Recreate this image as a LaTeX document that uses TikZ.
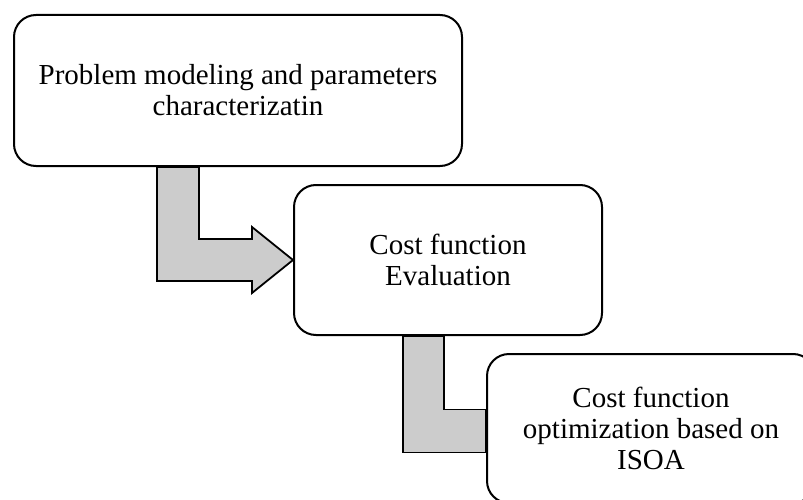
\documentclass[tikz,border=0pt]{standalone}
\usepackage{fontspec}
\setmainfont{Liberation Serif}
\usetikzlibrary{calc,backgrounds}
\definecolor{arrowgray}{RGB}{204,204,204}
\begin{document}
\begin{tikzpicture}[x=1pt,y=-1pt,
  stage/.style={draw=black, line width=2pt, fill=white, rounded corners=22pt,
    inner sep=0pt, align=center, font=\fontsize{29}{31}\selectfont},
  flow/.style={draw=black, line width=1.8pt, fill=arrowgray, line join=miter}]
\clip (0,0) rectangle (803,500);

% process stages
\node[stage, minimum width=448pt, minimum height=151pt] (b1) at (238,90.5)
  {Problem modeling and parameters\\characterizatin};
\node[stage, minimum width=308pt, minimum height=150pt] (b2) at (448,260)
  {Cost function\\Evaluation};
\node[stage, minimum width=328pt, minimum height=149pt] (b3) at (651,428.5)
  {Cost function\\optimization based on\\ISOA};

% bent block arrows between the stages
\begin{scope}[on background layer]
  % stage 1 -> stage 2
  \coordinate (t1) at (b2.west);
  \draw[flow] ($(b1.south west)+(144,0)$) -- ($(b1.south west)+(186,0)$)
    |- ($(t1)+(-41,-21)$) -- ($(t1)+(-41,-33)$) -- (t1)
    -- ($(t1)+(-41,33)$) -- ($(t1)+(-41,21)$)
    -| cycle;
  % stage 2 -> stage 3
  \coordinate (t2) at (b3.west);
  \draw[flow] ($(b2.south west)+(110,0)$) -- ($(b2.south west)+(151,0)$)
    |- ($(t2)+(0,-19)$) -- ($(t2)+(0,24)$)
    -| cycle;
\end{scope}
\end{tikzpicture}
\end{document}
